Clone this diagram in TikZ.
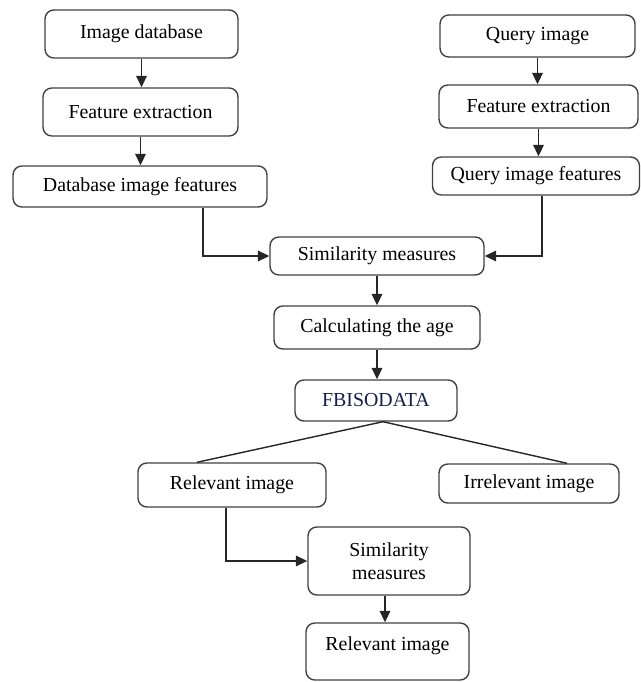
\documentclass[tikz,border=0pt]{standalone}
\usepackage{fontspec}
\setmainfont{Liberation Serif}
\usepackage{tikz}
\usetikzlibrary{arrows.meta, positioning}

\begin{document}
\begin{tikzpicture}[
    x=0.02cm, y=-0.02cm,
    box/.style={draw=black!75, line width=0.8pt, rounded corners=5pt, align=center, inner sep=0pt, font=\fontsize{11.3}{13}\selectfont},
    arrow/.style={-{Triangle[length=6.5pt,width=6pt]}, line width=0.8pt, black!85},
    link/.style={line width=0.8pt, black!85}
]
\useasboundingbox (0,0) rectangle (641,682);

% Database branch
\node[box, minimum width=3.86cm, minimum height=0.96cm] (imgdb)  at (141.5,34)  {Image database};
\node[box, minimum width=3.90cm, minimum height=0.96cm] (featdb) at (140.5,112) {Feature extraction};
\node[box, minimum width=5.08cm, minimum height=0.82cm] (dbfeat) at (140,186.5) {Database image features};

% Query branch
\node[box, minimum width=3.90cm, minimum height=0.84cm] (query)  at (537.5,36)  {Query image};
\node[box, minimum width=3.98cm, minimum height=0.86cm] (featq)  at (538.5,106.5) {Feature extraction};
\node[box, minimum width=4.14cm, minimum height=0.76cm] (qfeat)  at (536,176)   {Query image features};

% Matching and clustering
\node[box, minimum width=4.28cm, minimum height=0.76cm] (sim)    at (377,256)   {Similarity measures};
\node[box, minimum width=4.12cm, minimum height=0.86cm] (calc)   at (377,327.5) {Calculating the age};
\node[box, minimum width=3.24cm, minimum height=0.82cm, text={rgb,1:red,0.08;green,0.12;blue,0.3}] (fbiso) at (376,400.5) {FBISODATA};

% Result
\node[box, minimum width=3.76cm, minimum height=0.88cm] (rel)    at (232,485)   {Relevant image};
\node[box, minimum width=3.60cm, minimum height=0.78cm] (irrel)  at (529,483.5) {Irrelevant image};
\node[box, minimum width=3.24cm, minimum height=1.36cm] (simtwo) at (389,561)   {Similarity\\measures};
\node[box, minimum width=3.26cm, minimum height=1.14cm, text depth=0.33cm] (relout) at (387.5,651.5) {Relevant image};

% Vertical arrows
\draw[arrow] (imgdb.south) -- (imgdb.south |- featdb.north);
\draw[arrow] (featdb.south) -- (featdb.south |- dbfeat.north);
\draw[arrow] (query.south) -- (query.south |- featq.north);
\draw[arrow] (featq.south) -- (featq.south |- qfeat.north);
\draw[arrow] (sim.south) -- (sim.south |- calc.north);
\draw[arrow] (calc.south) -- (calc.south |- fbiso.north);
\draw[arrow] ([xshift=-0.08cm]simtwo.south) -- ([xshift=-0.08cm]simtwo.south |- relout.north);

% Elbow arrows into similarity measures
\draw[arrow] ([xshift=1.26cm]dbfeat.south) |- (sim.west);
\draw[arrow] ([xshift=0.12cm]qfeat.south) |- (sim.east);
\draw[arrow] ([xshift=-0.12cm]rel.south) |- (simtwo.west);

% Split after clustering
\draw[link] ([xshift=0.14cm]fbiso.south) -- ([xshift=-0.7cm]rel.north);
\draw[link] ([xshift=0.14cm]fbiso.south) -- ([xshift=0.76cm]irrel.north);

\end{tikzpicture}
\end{document}
